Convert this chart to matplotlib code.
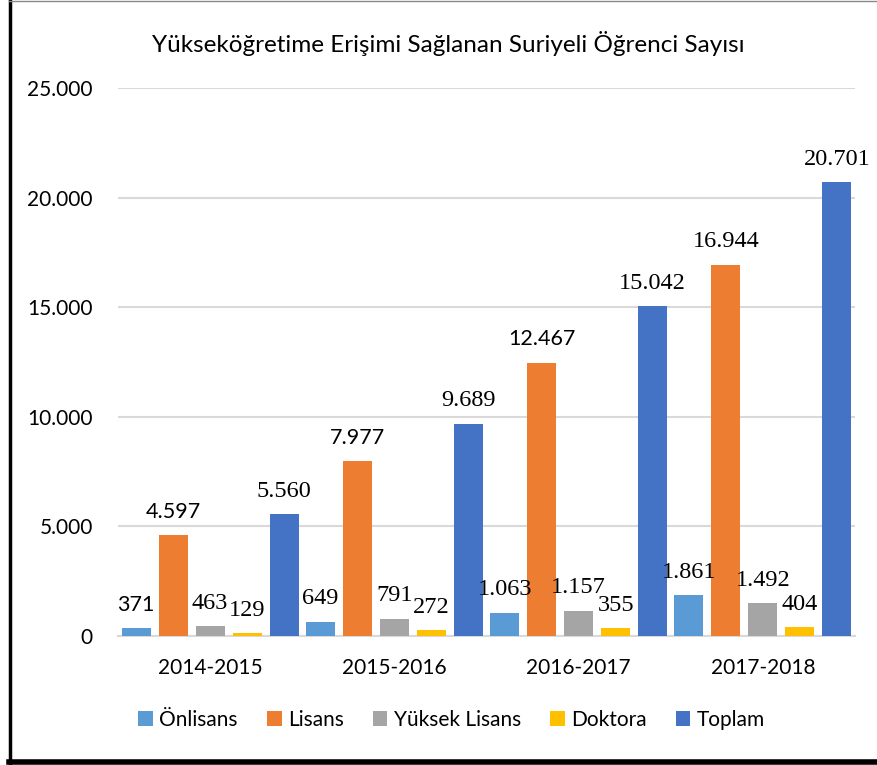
import numpy as np
import matplotlib.pyplot as plt
from matplotlib.lines import Line2D

# veriler
years = ['2014-2015', '2015-2016', '2016-2017', '2017-2018']
series_names = ['Önlisans', 'Lisans', 'Yüksek Lisans', 'Doktora', 'Toplam']
onlisans = [371, 649, 1063, 1861]
lisans = [4597, 7977, 12467, 16944]
yuksek_lisans = [463, 791, 1157, 1492]
doktora = [129, 272, 355, 404]
toplam = [5560, 9689, 15042, 20701]

colors = ['#5B9BD5', '#ED7D31', '#A5A5A5', '#FFC000', '#4472C4']
# etiket yazı tipi: True = serif (Times), False = sans
serif_labels = [
    [False, True, True, True],
    [False, False, False, True],
    [True, True, True, True],
    [True, True, True, True],
    [True, True, True, True],
]

SANS = ['Lato', 'DejaVu Sans']
SERIF = ['Liberation Serif', 'DejaVu Serif']
plt.rcParams['font.family'] = SANS

fig = plt.figure(figsize=(8.77, 7.65), dpi=100)
ax = fig.add_axes([0.1345, 0.1686, 0.8405, 0.7164])

data = [onlisans, lisans, yuksek_lisans, doktora, toplam]
x = np.arange(len(years))
pitch = 0.2008
width = 0.157

for i, (name, vals) in enumerate(zip(series_names, data)):
    pos = x + (i - 2) * pitch
    bars = ax.bar(pos, vals, width, color=colors[i], label=name, zorder=3)
    for j, (b, v) in enumerate(zip(bars, vals)):
        lbl = f'{v:,}'.replace(',', '.')
        fam = SERIF if serif_labels[i][j] else SANS
        fs = 17.5 if serif_labels[i][j] else 15.5
        ax.annotate(lbl, (b.get_x() + b.get_width() / 2, v),
                    xytext=(0, 12.5), textcoords='offset points',
                    ha='center', va='baseline', fontsize=fs,
                    family=fam, color='black', zorder=4)

ax.set_ylim(0, 25000)
ax.set_xlim(-0.5, 3.5)
ax.set_yticks(np.arange(0, 25001, 5000))
ax.set_yticklabels([f'{v:,}'.replace(',', '.') for v in range(0, 25001, 5000)])
ax.set_xticks(x)
ax.set_xticklabels(years)
ax.tick_params(axis='both', length=0, labelsize=15, colors='black')
ax.tick_params(axis='y', pad=18)
ax.tick_params(axis='x', pad=16)
ax.grid(axis='y', color='#D9D9D9', linewidth=1.5, zorder=0)
for s in ['top', 'right', 'left']:
    ax.spines[s].set_visible(False)
ax.spines['bottom'].set_color('#D9D9D9')
ax.spines['bottom'].set_linewidth(1.5)

fig.text(0.511, 1 - 43 / 765, 'Yükseköğretime Erişimi Sağlanan Suriyeli Öğrenci Sayısı',
         ha='center', va='center', fontsize=17.5)

fig.legend(loc='center', bbox_to_anchor=(0.515, 1 - 720 / 765), ncol=5,
           frameon=False, fontsize=15, handlelength=0.7, handleheight=0.7,
           handletextpad=0.3, columnspacing=1.4)

# dış çerçeve
fig.add_artist(Line2D([10 / 877, 10 / 877], [0, 1], color='black', lw=2.5))
fig.add_artist(Line2D([0.01, 1], [3 / 765, 3 / 765], color='black', lw=4))
fig.add_artist(Line2D([0.01, 1], [1 - 1 / 765, 1 - 1 / 765], color='#888888', lw=1))

plt.savefig('out.png', dpi=100)
